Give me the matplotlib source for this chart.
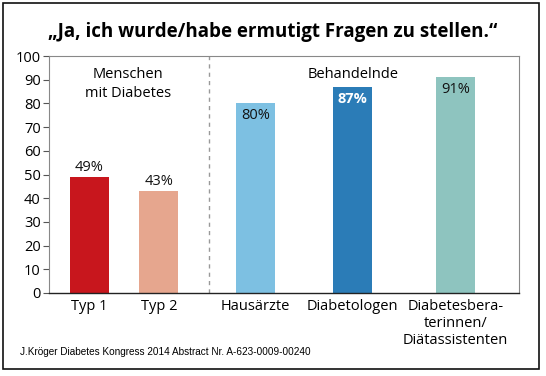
import matplotlib
matplotlib.use("Agg")
import matplotlib.pyplot as plt
from matplotlib.patches import Rectangle

categories = ["Typ 1", "Typ 2", "Hausärzte", "Diabetologen", "Diabetesbera-\nterinnen/\nDiätassistenten"]
values = [49, 43, 80, 87, 91]
value_labels = ["49%", "43%", "80%", "87%", "91%"]
colors = ["#c8161d", "#e6a68e", "#7dc0e2", "#2b7cb7", "#8ec4bf"]
group_labels = ["Menschen\nmit Diabetes", "Behandelnde"]
title = "„Ja, ich wurde/habe ermutigt Fragen zu stellen.“"
source = "J.Kröger Diabetes Kongress 2014 Abstract Nr. A-623-0009-00240"
yticks = list(range(0, 101, 10))

positions = [0, 1, 2.39, 3.79, 5.27]
divider = 1.72

plt.rcParams['font.family'] = ['Open Sans', 'DejaVu Sans']

fig = plt.figure(figsize=(5.46, 3.76), dpi=100)
W, H = 546, 376
ax = fig.add_axes([49 / W, 1 - 293 / H, (519 - 49) / W, (293 - 56) / H])

bars = ax.bar(positions, values, width=0.56, color=colors, zorder=2)
ax.set_xlim(-0.58, 6.18)
ax.set_ylim(0, 100)
ax.set_yticks(yticks)
ax.set_yticklabels([str(t) for t in yticks], fontsize=10.5)
ax.set_xticks(positions)
ax.set_xticklabels(categories, fontsize=10.5, linespacing=1.2)
ax.tick_params(axis='x', length=0, pad=4)
ax.tick_params(axis='y', length=4, width=0.8, color='#555555', pad=2)

for s in ['top', 'right', 'left']:
    ax.spines[s].set_color('#888888')
    ax.spines[s].set_linewidth(0.8)
ax.spines['bottom'].set_color('#222222')
ax.spines['bottom'].set_linewidth(1.0)

ax.axvline(divider, color='#999999', linestyle=(0, (3, 3)), linewidth=1.0, zorder=1)

# value labels
for i, (p, v, lab) in enumerate(zip(positions, values, value_labels)):
    if i < 2:
        ax.text(p, v + 0.8, lab, ha='center', va='bottom', fontsize=10.5, color='#111111')
    elif i == 3:
        ax.text(p, v - 2, lab, ha='center', va='top', fontsize=10.5, color='white', fontweight='bold')
    else:
        ax.text(p, v - 2, lab, ha='center', va='top', fontsize=10.5, color='#111111')

ax.text(0.55, 95.3, group_labels[0], ha='center', va='top', fontsize=10.5, linespacing=1.35)
ax.text(3.79, 95.3, group_labels[1], ha='center', va='top', fontsize=10.5)

fig.text(273 / W, 1 - 32 / H, title, ha='center', va='center', fontsize=13.5, fontweight='bold')
fig.text(20 / W, 1 - 352 / H, source, ha='left', va='center', fontsize=7.2,
         family=['Liberation Sans', 'DejaVu Sans'])

fig.patches.append(Rectangle((3 / W, 1 - 369 / H), (539 - 3) / W, (369 - 3) / H,
                             transform=fig.transFigure, fill=False, edgecolor='#111111', linewidth=1.2))

fig.savefig("out.png", dpi=100)
